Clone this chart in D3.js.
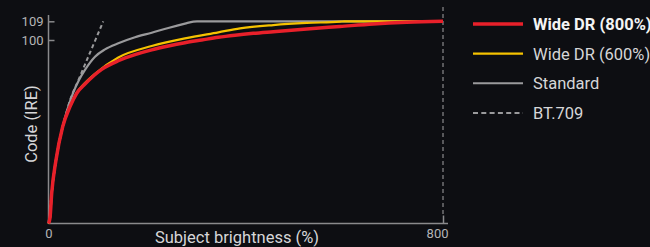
<!DOCTYPE html>
<html>
<head>
<meta charset="utf-8">
<script src="https://cdn.jsdelivr.net/npm/d3@7"></script>
<style>
  html, body { margin: 0; padding: 0; background: #0d0e12; }
  svg { display: block; font-family: Roboto, "DejaVu Sans", sans-serif; }
</style>
</head>
<body>
<svg id="chart" width="650" height="247"></svg>
<script>
// DATA (x = subject brightness %, y = code IRE)
const xTicks = [0, 800];
const yTicks = [100, 109];
const seriesNames = ["Wide DR (800%)", "Wide DR (600%)", "Standard", "BT.709"];

const wide800 = [[0,0],[3,3],[6.5,16.5],[15.2,34.6],[28.8,52.8],[43.6,63.7],[57.2,71],[74,76],[107.9,84],
  [141.6,88.7],[175.4,92],[209.3,94.6],[243,96.7],[276.8,98.5],[310.7,100],[344.4,101.3],[378.2,102.3],
  [415.3,103.2],[455.9,104],[523.6,105.3],[591.2,106.5],[658.7,107.7],[726.4,108.5],[800,109]];
const wide600 = [[0,0],[3,3],[6.5,16.5],[15.2,34.6],[28.8,52.8],[43.6,63.7],[57.2,71.2],[74,76.6],[94.3,81.6],
  [141.6,90.5],[209.3,96.7],[276.8,100.8],[344.4,103.7],[388.4,105.6],[455.9,107.2],[523.6,108.2],
  [591.2,108.8],[600,109],[800,109]];
const standard = [[0,0],[3,3],[6.5,16.5],[15.2,34.6],[28.8,52.8],[35.5,59.7],[49.7,71.1],[61.9,78.2],[74,83.7],
  [94.3,90.9],[114.6,94.9],[141.6,98.2],[175.4,101.3],[209.3,103.5],[243,105.8],[276.8,107.9],[293.7,108.85],
  [301.2,109],[800,109]];
const bt709 = [[0,0],[6.5,16.5],[15.2,34.6],[28.8,52.8],[35.5,59.7],[43.6,67.2],[59.8,77.6],[77.5,88.9],
  [94.3,99.5],[111.1,109]];

const svg = d3.select("#chart");

const x = d3.scaleLinear().domain([0, 800]).range([48.5, 443]);
const y = d3.scaleLinear().domain([0, 100, 109]).range([223.5, 40, 21.3]);

const axisColor = "#8a8a8c";

// dashed reference line at 800
svg.append("line")
  .attr("x1", x(800)).attr("x2", x(800))
  .attr("y1", 7).attr("y2", y(0) - 9)
  .attr("stroke", "#8a8a8c").attr("stroke-width", 1.2)
  .attr("stroke-dasharray", "4,3");

// AXES
const gy = svg.append("g").attr("transform", "translate(" + x(0) + ",0)")
  .call(d3.axisLeft(y).tickValues(yTicks).tickSizeInner(-6).tickSizeOuter(0).tickPadding(5));
gy.select(".domain").remove();
gy.append("line").attr("x1", 0).attr("x2", 0).attr("y1", 15).attr("y2", y(0))
  .attr("stroke", axisColor).attr("stroke-width", 1.5);

const gx = svg.append("g").attr("transform", "translate(0," + y(0) + ")")
  .call(d3.axisBottom(x).tickValues(xTicks).tickSizeInner(-8).tickSizeOuter(0).tickPadding(5));
gx.select(".domain").remove();
gx.append("line").attr("x1", x(0)).attr("x2", x(800) + 5).attr("y1", 0).attr("y2", 0)
  .attr("stroke", axisColor).attr("stroke-width", 1.5);
gx.selectAll(".tick").filter(d => d === 0).select("line").remove();
gx.selectAll(".tick").filter(d => d === 800).select("text").attr("text-anchor", "end").attr("x", 5);

svg.selectAll(".tick line").attr("stroke", axisColor).attr("stroke-width", 1.5);
svg.selectAll(".tick text").attr("fill", "#b4b4b6").style("font-size", "13px").style("font-family", "Roboto, sans-serif");

// axis titles
svg.append("text")
  .attr("x", 237).attr("y", 243)
  .attr("text-anchor", "middle")
  .attr("fill", "#d6d6d8").style("font-size", "16.5px")
  .text("Subject brightness (%)");
svg.append("text")
  .attr("transform", "translate(37,124) rotate(-90)")
  .attr("text-anchor", "middle")
  .attr("fill", "#d6d6d8").style("font-size", "16.5px")
  .text("Code (IRE)");

// CURVES
const line = d3.line().x(d => x(d[0])).y(d => y(d[1])).curve(d3.curveMonotoneX);

svg.append("path").datum(bt709).attr("d", line)
  .attr("fill", "none").attr("stroke", "#9a9a9c").attr("stroke-width", 2).attr("stroke-dasharray", "4,3");
svg.append("path").datum(standard).attr("d", line)
  .attr("fill", "none").attr("stroke", "#9a9a9c").attr("stroke-width", 2.2);
svg.append("path").datum(wide600).attr("d", line)
  .attr("fill", "none").attr("stroke", "#f5c200").attr("stroke-width", 2.2);
svg.append("path").datum(wide800).attr("d", line)
  .attr("fill", "none").attr("stroke", "#e8202a").attr("stroke-width", 3.5);

// LEGEND
const legendStyle = [
  {color: "#e8202a", width: 3.5, dash: null, bold: true},
  {color: "#f5c200", width: 2.2, dash: null, bold: false},
  {color: "#9a9a9c", width: 2, dash: null, bold: false},
  {color: "#9a9a9c", width: 2, dash: "5,3.3", bold: false}
];
const legendY = d3.scalePoint().domain(seriesNames).range([24, 113]);
const lg = svg.append("g").selectAll("g").data(seriesNames).enter().append("g")
  .attr("transform", d => "translate(473," + legendY(d) + ")");
lg.append("line").attr("x1", 0).attr("x2", 50).attr("y1", 0).attr("y2", 0)
  .attr("stroke", (d, i) => legendStyle[i].color)
  .attr("stroke-width", (d, i) => legendStyle[i].width)
  .attr("stroke-dasharray", (d, i) => legendStyle[i].dash);
lg.append("text").attr("x", 60).attr("dy", "0.36em")
  .attr("fill", (d, i) => legendStyle[i].bold ? "#f4f4f4" : "#d6d6d8")
  .style("font-size", "16.5px")
  .style("font-weight", (d, i) => legendStyle[i].bold ? "bold" : "normal")
  .text(d => d);
</script>
</body>
</html>
